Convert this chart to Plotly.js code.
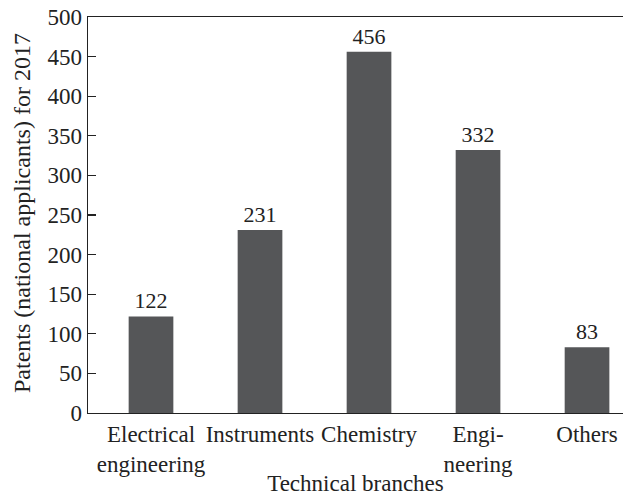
<!DOCTYPE html>
<html><head><meta charset="utf-8">
<script src="https://cdn.plot.ly/plotly-3.0.1.min.js"></script>
<style>html,body{margin:0;padding:0;background:#fff}#chart{width:629px;height:496px}</style>
</head><body><div id="chart"></div>
<script>
const categories = ["Electrical<br>engineering", "Instruments", "Chemistry", "Engi-<br>neering", "Others"];
const patents = [122, 231, 456, 332, 83];
const yTicks = [0, 50, 100, 150, 200, 250, 300, 350, 400, 450, 500];

const font = "Liberation Serif, Times New Roman, serif";
const trace = {
  type: "bar",
  x: categories,
  y: patents,
  text: patents.map(String),
  textposition: "outside",
  cliponaxis: false,
  textfont: {family: font, size: 22, color: "#222"},
  marker: {color: "#555658"},
  width: 0.41,
  hoverinfo: "none"
};
const layout = {
  width: 629, height: 496,
  margin: {l: 88, r: 6, t: 17, b: 83},
  paper_bgcolor: "#fff", plot_bgcolor: "#fff",
  font: {family: font, size: 22, color: "#222"},
  showlegend: false,
  xaxis: {
    type: "category",
    range: [-0.578, 4.33],
    showline: true, linecolor: "#222", linewidth: 1.3, mirror: true,
    ticks: "", showgrid: false, zeroline: false,
    tickangle: 0,
    tickfont: {family: font, size: 23, color: "#222"},
    title: {text: "Technical branches", font: {family: font, size: 23, color: "#222"}, standoff: 2}
  },
  yaxis: {
    range: [0, 500],
    tickvals: yTicks,
    ticktext: yTicks.map(String),
    showline: true, linecolor: "#222", linewidth: 1.3,
    ticks: "inside", ticklen: 8, tickcolor: "#222", tickwidth: 1.2,
    showgrid: false, zeroline: false,
    tickfont: {family: font, size: 23, color: "#222"}
  },
  annotations: [{
    text: "Patents (national applicants) for 2017",
    xref: "paper", yref: "paper",
    x: (22 - 88) / 535, y: 0.505,
    xanchor: "center", yanchor: "middle",
    textangle: -90, showarrow: false,
    font: {family: font, size: 24, color: "#222"}
  }]
};
Plotly.newPlot("chart", [trace], layout, {staticPlot: true, displayModeBar: false});
</script>
</body></html>
